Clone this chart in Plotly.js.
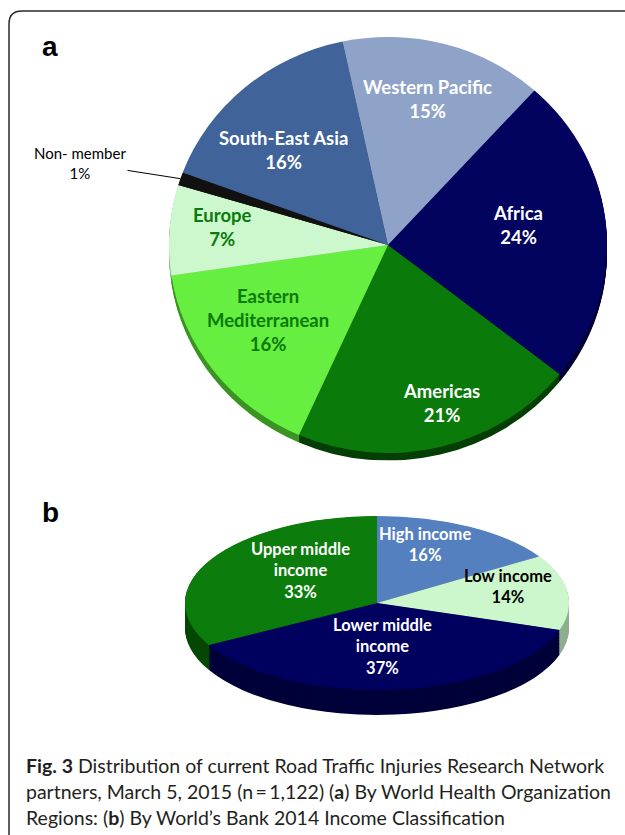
<!DOCTYPE html>
<html><head><meta charset="utf-8">
<script src="https://cdn.plot.ly/plotly-3.0.1.min.js"></script>
<style>
html,body{margin:0;padding:0;background:#fff;width:625px;height:835px;overflow:hidden;}
#pieA,#pieB,#overlay{position:absolute;}
#overlay{left:0;top:0;width:625px;height:835px;pointer-events:none;}
</style></head><body>
<div id="pieA"></div><div id="pieB"></div><div id="overlay"></div>
<script>
// ---- Data: panel a (WHO regions) ----
const regionLabels = ['Western Pacific','Africa','Americas','Eastern Mediterranean','Europe','Non- member','South-East Asia'];
const regionDisplay = ['Western Pacific','Africa','Americas','Eastern<br>Mediterranean','Europe','Non- member','South-East Asia'];
const regionValues = [15,24,21,16,7,1,16];
// ---- Data: panel b (World Bank income) ----
const incomeLabels = ['High income','Low income','Lower middle income','Upper middle income'];
const incomeDisplay = ['High income','Low income','Lower middle<br>income','Upper middle<br>income'];
const incomeValues = [16,14,37,33];
const captionLines = [
  '<b>Fig. 3</b> Distribution of current Road Traffic Injuries Research Network',
  'partners, March 5, 2015 (n\u2009=\u20091,122) (<b>a</b>) By World Health Organization',
  'Regions: (<b>b</b>) By World\u2019s Bank 2014 Income Classification'
];

// ---- Styles ----
const regionColors = ['#8fa3c8','#02025f','#0a7a0a','#66ee40','#cdf7cd','#111111','#40639a'];
const regionSide   = ['#5d6f92','#000033','#053f05','#3c9424','#8fb08f','#000000','#2a4266'];
const regionText   = ['#ffffff','#ffffff','#ffffff','#0b7a0b','#0b7a0b','#000000','#ffffff'];
const incomeColors = ['#5580c0','#ccf7cc','#00005f','#0c7c0c'];
const incomeSide   = ['#35568a','#8fae8f','#00003a','#064806'];
const incomeText   = ['#ffffff','#000000','#ffffff','#ffffff'];

const geoA = {cx:388, cy:245, rx:219, ry:208, depth:8, rotation:-12, step:1};
const geoB = {cx:377, cy:603, rx:192, ry:87, depth:25, rotation:0, step:2};

// label placements (text positions, pixels)
const posA = [[427,99],[518,225],[441,403],[268,320],[222,227],null,[283,150]];
const posB = [[425,544],[508,586],[382,646],[300,570]];

function build3DPie(divId, values, labels, topColors, sideColors, geo){
  const scale = geo.ry/geo.rx;
  const D = 2*geo.rx;
  const depthU = Math.round(geo.depth/scale);
  const H = D + depthU;
  function makePie(k, colors){
    return {type:'pie', values:values, labels:labels, sort:false, direction:'clockwise',
      rotation:geo.rotation, textinfo:'none', hoverinfo:'skip', showlegend:false,
      marker:{colors:colors, line:{width:0}},
      domain:{x:[0,1], y:[(depthU-k)/H, (H-k)/H]}};
  }
  const traces = [];
  for(let k=depthU; k>=1; k-=geo.step) traces.push(makePie(k, sideColors));
  traces.push(makePie(0, topColors));
  const div = document.getElementById(divId);
  div.style.left = (geo.cx-geo.rx)+'px';
  div.style.top = (geo.cy-geo.ry)+'px';
  div.style.width = D+'px'; div.style.height = H+'px';
  div.style.transform = 'scaleY('+scale+')';
  div.style.transformOrigin = '0 0';
  Plotly.newPlot(div, traces, {width:D, height:H, margin:{l:0,r:0,t:0,b:0},
    paper_bgcolor:'rgba(0,0,0,0)', plot_bgcolor:'rgba(0,0,0,0)', showlegend:false},
    {staticPlot:true, displayModeBar:false});
}

build3DPie('pieA', regionValues, regionLabels, regionColors, regionSide, geoA);
build3DPie('pieB', incomeValues, incomeLabels, incomeColors, incomeSide, geoB);

const FONT = 'Lato, "Open Sans", sans-serif';
const ann = [];
regionValues.forEach(function(v,i){
  if(!posA[i]) return;
  ann.push({x:posA[i][0], y:posA[i][1], xref:'x', yref:'y', showarrow:false,
    text:regionDisplay[i]+'<br>'+v+'%', align:'center', xanchor:'center', yanchor:'middle',
    font:{family:FONT, size:18.5, color:regionText[i], weight:'bold'}});
});
// non-member label with leader to the slice mid-angle
(function(){
  const total = regionValues.reduce((a,b)=>a+b,0);
  let cum = 0; const idx = 5;
  for(let i=0;i<idx;i++) cum += regionValues[i];
  const mid = (geoA.rotation + (cum + regionValues[idx]/2)/total*360)*Math.PI/180;
  const px = geoA.cx + geoA.rx*Math.sin(mid);
  const py = geoA.cy - geoA.ry*Math.cos(mid);
  ann.push({x:px, y:py, xref:'x', yref:'y', ax:80, ay:163, axref:'x', ayref:'y',
    showarrow:true, arrowhead:0, arrowwidth:1, arrowcolor:'#000', standoff:0,
    text:regionDisplay[idx]+'<br>'+regionValues[idx]+'%', align:'center',
    font:{family:FONT, size:15, color:'#000'}});
})();
incomeValues.forEach(function(v,i){
  ann.push({x:posB[i][0], y:posB[i][1], xref:'x', yref:'y', showarrow:false,
    text:incomeDisplay[i]+'<br>'+v+'%', align:'center', xanchor:'center', yanchor:'middle',
    font:{family:FONT, size:16.5, color:incomeText[i], weight:'bold'}});
});
ann.push({x:50, y:46, xref:'x', yref:'y', showarrow:false, text:'<b>a</b>',
  font:{family:'"Liberation Sans", Arial, sans-serif', size:28, color:'#000'}});
ann.push({x:50, y:512, xref:'x', yref:'y', showarrow:false, text:'<b>b</b>',
  font:{family:'"Liberation Sans", Arial, sans-serif', size:28, color:'#000'}});
const capY = [765, 791, 817];
captionLines.forEach(function(t,i){
  ann.push({x:24, y:capY[i], xref:'x', yref:'y', xanchor:'left', yanchor:'middle', showarrow:false,
    text:t, font:{family:FONT, size:19.5, color:'#231f20'}});
});

Plotly.newPlot('overlay', [], {
  width:625, height:835, margin:{l:0,r:0,t:0,b:0},
  paper_bgcolor:'rgba(0,0,0,0)', plot_bgcolor:'rgba(0,0,0,0)',
  xaxis:{range:[0,625], visible:false, fixedrange:true},
  yaxis:{range:[835,0], visible:false, fixedrange:true},
  shapes:[{type:'path', xref:'x', yref:'y', path:'M 9,840 L 9,24 Q 9,11 22,11 L 640,11',
    line:{color:'#2a2a2a', width:1.5}}],
  annotations:ann, showlegend:false
}, {staticPlot:true, displayModeBar:false});
</script></body></html>
